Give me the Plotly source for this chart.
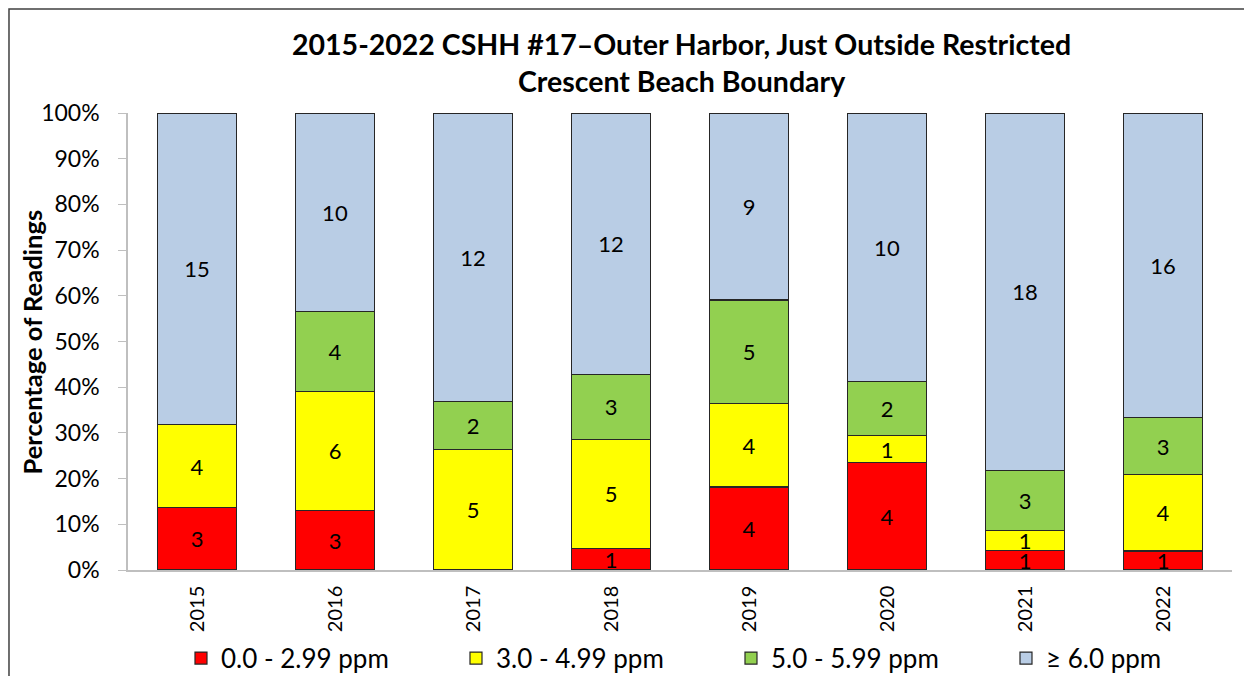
import plotly.graph_objects as go

years = ["2015", "2016", "2017", "2018", "2019", "2020", "2021", "2022"]
low = [3, 3, 0, 1, 4, 4, 1, 1]
mid_low = [4, 6, 5, 5, 4, 1, 1, 4]
mid_high = [0, 4, 2, 3, 5, 2, 3, 3]
high = [15, 10, 12, 12, 9, 10, 18, 16]

series = [
    ("0.0 - 2.99 ppm", low, "#ff0000"),
    ("3.0 - 4.99 ppm", mid_low, "#ffff00"),
    ("5.0 - 5.99 ppm", mid_high, "#92d050"),
    ("\u2265 6.0 ppm", high, "#b9cde5"),
]

FONT = "Lato, 'Open Sans', sans-serif"

fig = go.Figure()
for name, vals, color in series:
    fig.add_trace(go.Bar(
        x=years,
        y=vals,
        name=name,
        marker=dict(color=color, line=dict(color="#262626", width=1.2)),
        text=[str(v) if v else "" for v in vals],
        textposition="inside",
        insidetextanchor="middle",
        constraintext="none",
        textangle=0,
        textfont=dict(size=22, color="#000000", family=FONT),
        hoverinfo="skip",
    ))

fig.update_layout(
    barmode="stack",
    barnorm="percent",
    bargap=0.43,
    width=1252,
    height=676,
    paper_bgcolor="white",
    plot_bgcolor="white",
    font=dict(family=FONT, color="#000000"),
    # page has an 8px body margin, so the plot is nudged up/left by 8px
    margin=dict(l=120, r=28, t=105, b=114, autoexpand=False),
    title=dict(
        text="2015-2022 CSHH #17\u2013Outer Harbor, Just Outside Restricted<br>Crescent Beach Boundary",
        x=0.538, xanchor="center", y=0.931, yanchor="top",
        font=dict(size=28.5, family=FONT, color="#000000", weight="bold"),
    ),
    xaxis=dict(
        tickangle=-90,
        tickfont=dict(size=20),
        ticklabelstandoff=6,
        showline=True, linecolor="#bfbfbf", linewidth=1.5,
        ticks="", showgrid=False,
    ),
    yaxis=dict(
        range=[0, 100], dtick=10, ticksuffix="%",
        tickfont=dict(size=23),
        ticklabelstandoff=14,
        showline=True, linecolor="#bfbfbf", linewidth=1.5,
        ticks="outside", ticklen=8, tickcolor="#bfbfbf",
        showgrid=False,
    ),
    annotations=[dict(
        text="<b>Percentage of Readings</b>", textangle=-90,
        xref="paper", yref="paper", x=-0.087, y=0.5,
        xanchor="center", yanchor="middle", showarrow=False,
        font=dict(size=25.5, family=FONT, color="#000000"),
    )],
    legend=dict(
        orientation="h", x=0.048, xanchor="left", y=-0.193, yanchor="middle",
        font=dict(size=26), entrywidth=230, traceorder="normal",
        itemwidth=30,
    ),
    shapes=[dict(
        type="rect", xref="paper", yref="paper",
        x0=-0.1078, x1=1.1, y0=-0.4, y1=1.2276,
        line=dict(color="#404040", width=1.5), fillcolor="rgba(0,0,0,0)", layer="below",
    )],
)

fig.write_html("out.html")
